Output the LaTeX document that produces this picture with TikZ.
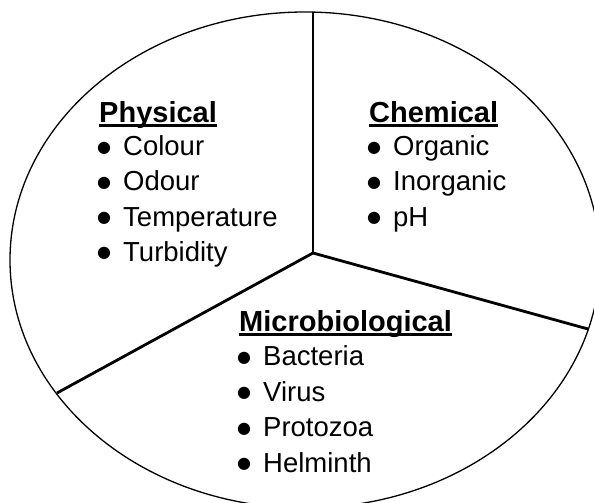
\documentclass[tikz,border=0pt]{standalone}
\usepackage{fontspec}
\setmainfont{Liberation Sans}
\newfontfamily\dotfont{DejaVu Sans}
\usetikzlibrary{positioning}

\newcommand{\itemdot}{\makebox[24pt][l]{\hspace*{-2pt}\raisebox{3.5pt}[0pt][0pt]{\dotfont\fontsize{16}{16}\selectfont ●}}}

\begin{document}
\begin{tikzpicture}[
    x=1pt, y=-1pt,
    rim/.style={draw, line width=1.3pt},
    spoke/.style={draw, line width=2.8pt},
    head/.style={anchor=base west, inner sep=0pt, font=\bfseries\fontsize{29}{35}\selectfont},
    entry/.style={anchor=base west, inner sep=0pt, font=\fontsize{27.5}{35}\selectfont},
    uline/.style={draw, line width=3pt}
]
\useasboundingbox (0,0) rectangle (594,503);
\clip (0,0) rectangle (594,503);

% outline and the three dividers
\draw[rim] (305,260) ellipse [x radius=295pt, y radius=248pt];
\coordinate (hub) at (313,253);
\coordinate (rimtop) at (313,12);
\coordinate (rimleft) at (57,393);
\coordinate (rimright) at (588,329);
\draw[spoke] (hub) -- (rimtop);
\draw[spoke] (hub) -- (rimleft);
\draw[spoke] (hub) -- (rimright);

% headings
\node[head] (phys) at (99,122) {Physical};
\node[head] (chem) at (369,122) {Chemical};
\node[head] (micro) at (239,331) {Microbiological};
\draw[uline] ([yshift=-3.5pt]phys.base west) -- ([yshift=-3.5pt]phys.base east);
\draw[uline] ([yshift=-3.5pt]chem.base west) -- ([yshift=-3.5pt]chem.base east);
\draw[uline] ([yshift=-3.5pt]micro.base west) -- ([yshift=-3.5pt]micro.base east);

% lists
\foreach \word [count=\i] in {Colour, Odour, Temperature, Turbidity}
    \node[entry] (phys-\i) at (99,120.5+35.2*\i) {\itemdot\word};
\foreach \word [count=\i] in {Organic, Inorganic, pH}
    \node[entry] (chem-\i) at (369,120.5+35.2*\i) {\itemdot\word};
\foreach \word [count=\i] in {Bacteria, Virus, Protozoa, Helminth}
    \node[entry] (micro-\i) at (239,330+35.5*\i) {\itemdot\word};

\end{tikzpicture}
\end{document}
